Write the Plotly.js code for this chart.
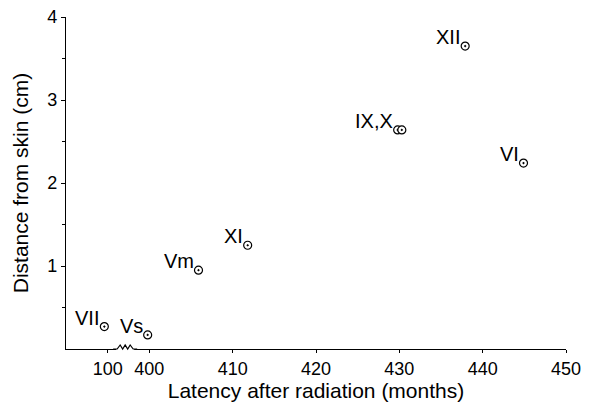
<!DOCTYPE html>
<html>
<head>
<meta charset="utf-8">
<script src="https://cdn.plot.ly/plotly-3.0.1.min.js"></script>
<style>html,body{margin:0;padding:0;background:#fff;}#chart{width:591px;height:402px;}</style>
</head>
<body>
<div id="chart"></div>
<script>
// Data
var labels   = ['VII', 'Vs', 'Vm', 'XI', 'IX,X', '', 'XII', 'VI'];
var latency  = [99.6, 399.8, 405.9, 411.8, 429.8, 430.3, 437.9, 444.9]; // months
var distance = [0.27, 0.17, 0.95, 1.25, 2.64, 2.64, 3.65, 2.24];         // cm

// Broken x axis: the "100" section is drawn just left of the break before 400
var breakOffset = 295; // 100 -> 395 on the drawn axis
function toAxis(v) { return v < 200 ? v + breakOffset : v; }
var xTickValues = [100, 400, 410, 420, 430, 440, 450];
var xTickText   = ['100', '400', '410', '420', '430', '440', '450'];
var yTickValues = [1, 2, 3, 4];
var yMinorTicks = [0.5, 1.5, 2.5, 3.5];
var breakAt = 397.1;

var xs = latency.map(toAxis);
var FONT = 'Liberation Sans, Arial, Helvetica, sans-serif';

var trace = {
  x: xs, y: distance, type: 'scatter', mode: 'markers',
  marker: {symbol: 'circle-dot', size: 8, color: '#fff', line: {color: '#000', width: 1.2}},
  cliponaxis: false, hoverinfo: 'skip'
};

var annotations = [];
labels.forEach(function (t, i) {
  if (!t) return;
  annotations.push({
    x: xs[i], y: distance[i], xref: 'x', yref: 'y', text: t, showarrow: false,
    xanchor: 'right', yanchor: 'bottom', xshift: -3, yshift: -4,
    font: {family: FONT, size: 20, color: '#000'}
  });
});

var layout = {
  width: 591, height: 402,
  margin: {l: 66, r: 25, t: 17, b: 53},
  paper_bgcolor: '#fff', plot_bgcolor: '#fff',
  showlegend: false,
  font: {family: FONT, color: '#000'},
  xaxis: {
    range: [390, 450], showgrid: false, zeroline: false,
    showline: true, linecolor: '#000', linewidth: 1.2,
    tickmode: 'array', tickvals: xTickValues.map(toAxis), ticktext: xTickText,
    ticks: 'outside', ticklen: 3, tickcolor: '#000', tickwidth: 1,
    tickfont: {size: 18, color: '#000'},
    title: {text: 'Latency after radiation (months)', font: {size: 21, color: '#000'}, standoff: 2}
  },
  yaxis: {
    range: [0, 4], showgrid: false, zeroline: false,
    showline: true, linecolor: '#000', linewidth: 1.2,
    tickmode: 'array', tickvals: yTickValues,
    ticks: 'outside', ticklen: 4, tickcolor: '#000', tickwidth: 1,
    tickfont: {size: 18, color: '#000'},
    minor: {tickmode: 'array', tickvals: yMinorTicks, ticks: 'outside', ticklen: 3, tickcolor: '#000', showgrid: false},
    title: {text: 'Distance from skin (cm)', font: {size: 21, color: '#000'}, standoff: 12}
  },
  annotations: annotations,
  shapes: [
    {type: 'rect', xref: 'x', yref: 'paper', xsizemode: 'pixel', ysizemode: 'pixel',
     xanchor: breakAt, yanchor: 0, x0: -9, x1: 9, y0: -2, y1: 2,
     fillcolor: '#fff', line: {width: 0}, layer: 'above'},
    {type: 'path', xref: 'x', yref: 'paper', xsizemode: 'pixel', ysizemode: 'pixel',
     xanchor: breakAt, yanchor: 0,
     path: 'M-12,0 L-8,0 L-5,4 L-2.5,0 L0,4 L2.5,0 L5,4 L8,0 L12,0',
     line: {color: '#000', width: 1.2}, layer: 'above'}
  ]
};

Plotly.newPlot('chart', [trace], layout, {displayModeBar: false, staticPlot: true});
</script>
</body>
</html>
